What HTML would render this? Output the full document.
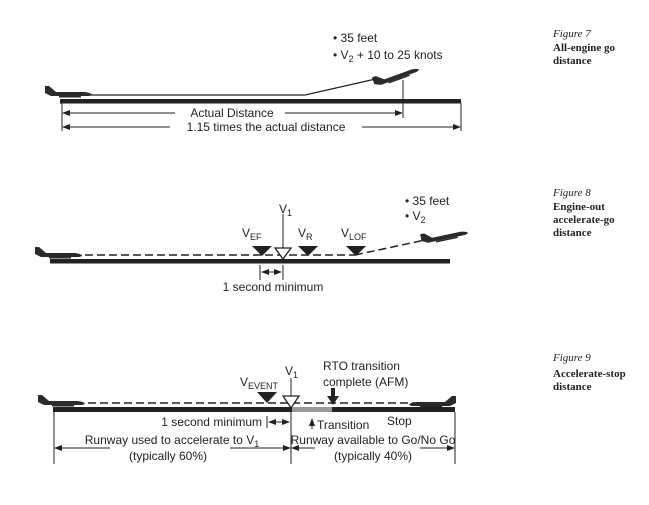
<!DOCTYPE html>
<html><head><meta charset="utf-8"><style>
body{margin:0;background:#fff;width:649px;height:505px;overflow:hidden}
svg{display:block}
.t{font-family:"Liberation Sans",sans-serif;font-size:12px;fill:#222}
.s{font-size:9px}
.cap{font-family:"Liberation Serif",serif;font-size:11px;fill:#222}
</style></head><body>
<svg width="649" height="505" viewBox="0 0 649 505">
<defs>
<g id="pl"><path d="M0,-9 L4,-9 L11,-3 L40,-3 Q47,-2 47,0 L44,1 L6,1 L0,-2 Z" fill="#2a2a2a"/><rect x="14" y="1" width="22" height="1.5" fill="#2a2a2a"/></g>
<marker id="a" markerWidth="8" markerHeight="6" refX="7" refY="3" orient="auto-start-reverse" markerUnits="userSpaceOnUse"><path d="M0,0 L8,3 L0,6 Z" fill="#222"/></marker>
</defs>
<!-- Figure 7 -->
<use href="#pl" x="45" y="95"/>
<rect x="60" y="99" width="401" height="4.5" fill="#222"/>
<polyline points="90,95 305,95 380,78" fill="none" stroke="#222" stroke-width="1.2"/>
<use href="#pl" transform="translate(375,86) rotate(-20)"/>
<line x1="403" y1="80" x2="403" y2="118" stroke="#222"/>
<line x1="62" y1="103" x2="62" y2="131" stroke="#222"/>
<line x1="461" y1="103" x2="461" y2="131" stroke="#222"/>
<line x1="63" y1="113" x2="175" y2="113" stroke="#222" marker-start="url(#a)"/>
<line x1="285" y1="113" x2="402" y2="113" stroke="#222" marker-end="url(#a)"/>
<text class="t" x="232" y="117" text-anchor="middle">Actual Distance</text>
<line x1="63" y1="127" x2="170" y2="127" stroke="#222" marker-start="url(#a)"/>
<line x1="362" y1="127" x2="460" y2="127" stroke="#222" marker-end="url(#a)"/>
<text class="t" x="266" y="131" text-anchor="middle">1.15 times the actual distance</text>
<text class="t" x="333" y="42">• 35 feet</text>
<text class="t" x="333" y="59">• V<tspan class="s" dy="3">2</tspan><tspan dy="-3"> + 10 to 25 knots</tspan></text>
<text class="cap" x="553" y="37" font-style="italic">Figure 7</text>
<text class="cap" x="553" y="51" font-weight="bold">All-engine go</text>
<text class="cap" x="553" y="64" font-weight="bold">distance</text>

<!-- Figure 8 -->
<use href="#pl" x="35" y="256"/>
<rect x="50" y="259" width="400" height="4.5" fill="#222"/>
<line x1="85" y1="255" x2="355" y2="255" stroke="#222" stroke-width="1.5" stroke-dasharray="8,4"/>
<line x1="355" y1="255" x2="425" y2="240" stroke="#222" stroke-width="1.5" stroke-dasharray="8,4"/>
<use href="#pl" transform="translate(422,243) rotate(-12)"/>
<path d="M252,246 L272,246 L262,256 Z" fill="#222"/>
<path d="M298,246 L318,246 L308,256 Z" fill="#222"/>
<path d="M346,246 L366,246 L356,256 Z" fill="#222"/>
<line x1="283" y1="214" x2="283" y2="248" stroke="#222"/>
<path d="M275,248 L291,248 L283,259 Z" fill="#fff" stroke="#222" stroke-width="1.3"/>
<text class="t" x="279" y="213">V<tspan class="s" dy="3">1</tspan></text>
<text class="t" x="242" y="237">V<tspan class="s" dy="3">EF</tspan></text>
<text class="t" x="298" y="237">V<tspan class="s" dy="3">R</tspan></text>
<text class="t" x="341" y="237">V<tspan class="s" dy="3">LOF</tspan></text>
<line x1="260" y1="265" x2="260" y2="280" stroke="#222"/>
<line x1="283" y1="265" x2="283" y2="280" stroke="#222"/>
<line x1="262" y1="272" x2="281" y2="272" stroke="#222" marker-start="url(#a)" marker-end="url(#a)"/>
<text class="t" x="273" y="291" text-anchor="middle">1 second minimum</text>
<text class="t" x="405" y="205">• 35 feet</text>
<text class="t" x="405" y="220">• V<tspan class="s" dy="3">2</tspan></text>
<text class="cap" x="553" y="196" font-style="italic">Figure 8</text>
<text class="cap" x="553" y="210" font-weight="bold">Engine-out</text>
<text class="cap" x="553" y="223" font-weight="bold">accelerate-go</text>
<text class="cap" x="553" y="236" font-weight="bold">distance</text>

<!-- Figure 9 -->
<use href="#pl" x="38" y="404"/>
<use href="#pl" transform="translate(456,405) scale(-1,1)"/>
<rect x="53" y="407" width="402" height="5" fill="#222"/>
<rect x="292" y="407" width="40" height="5" fill="#999"/>
<line x1="88" y1="403" x2="415" y2="403" stroke="#222" stroke-width="1.5" stroke-dasharray="8,4"/>
<path d="M257,392 L277,392 L267,403 Z" fill="#222"/>
<line x1="291" y1="378" x2="291" y2="396" stroke="#222"/>
<path d="M283,396 L299,396 L291,408 Z" fill="#fff" stroke="#222" stroke-width="1.3"/>
<rect x="331" y="388" width="4" height="9" fill="#222"/>
<path d="M327,396 L339,396 L333,405 Z" fill="#222"/>
<text class="t" x="285" y="375">V<tspan class="s" dy="3">1</tspan></text>
<text class="t" x="240" y="386">V<tspan class="s" dy="3">EVENT</tspan></text>
<text class="t" x="323" y="370">RTO transition</text>
<text class="t" x="323" y="386">complete (AFM)</text>
<text class="t" x="262" y="426" text-anchor="end">1 second minimum</text>
<line x1="267" y1="416" x2="267" y2="428" stroke="#222"/>
<line x1="269" y1="422" x2="289" y2="422" stroke="#222" marker-start="url(#a)" marker-end="url(#a)"/>
<line x1="312" y1="429" x2="312" y2="419" stroke="#222" marker-end="url(#a)"/>
<text class="t" x="317" y="429">Transition</text>
<text class="t" x="387" y="425">Stop</text>
<line x1="54" y1="412" x2="54" y2="464" stroke="#222"/>
<line x1="291" y1="412" x2="291" y2="464" stroke="#222"/>
<line x1="455" y1="412" x2="455" y2="464" stroke="#222"/>
<text class="t" x="172" y="444" text-anchor="middle">Runway used to accelerate to V<tspan class="s" dy="3">1</tspan></text>
<text class="t" x="168" y="460" text-anchor="middle">(typically 60%)</text>
<line x1="55" y1="448" x2="110" y2="448" stroke="#222" marker-start="url(#a)"/>
<line x1="230" y1="448" x2="290" y2="448" stroke="#222" marker-end="url(#a)"/>
<text class="t" x="373" y="444" text-anchor="middle">Runway available to Go/No Go</text>
<text class="t" x="373" y="460" text-anchor="middle">(typically 40%)</text>
<line x1="292" y1="448" x2="315" y2="448" stroke="#222" marker-start="url(#a)"/>
<line x1="420" y1="448" x2="454" y2="448" stroke="#222" marker-end="url(#a)"/>
<text class="cap" x="553" y="361" font-style="italic">Figure 9</text>
<text class="cap" x="553" y="377" font-weight="bold">Accelerate-stop</text>
<text class="cap" x="553" y="390" font-weight="bold">distance</text>
</svg>
</body></html>
